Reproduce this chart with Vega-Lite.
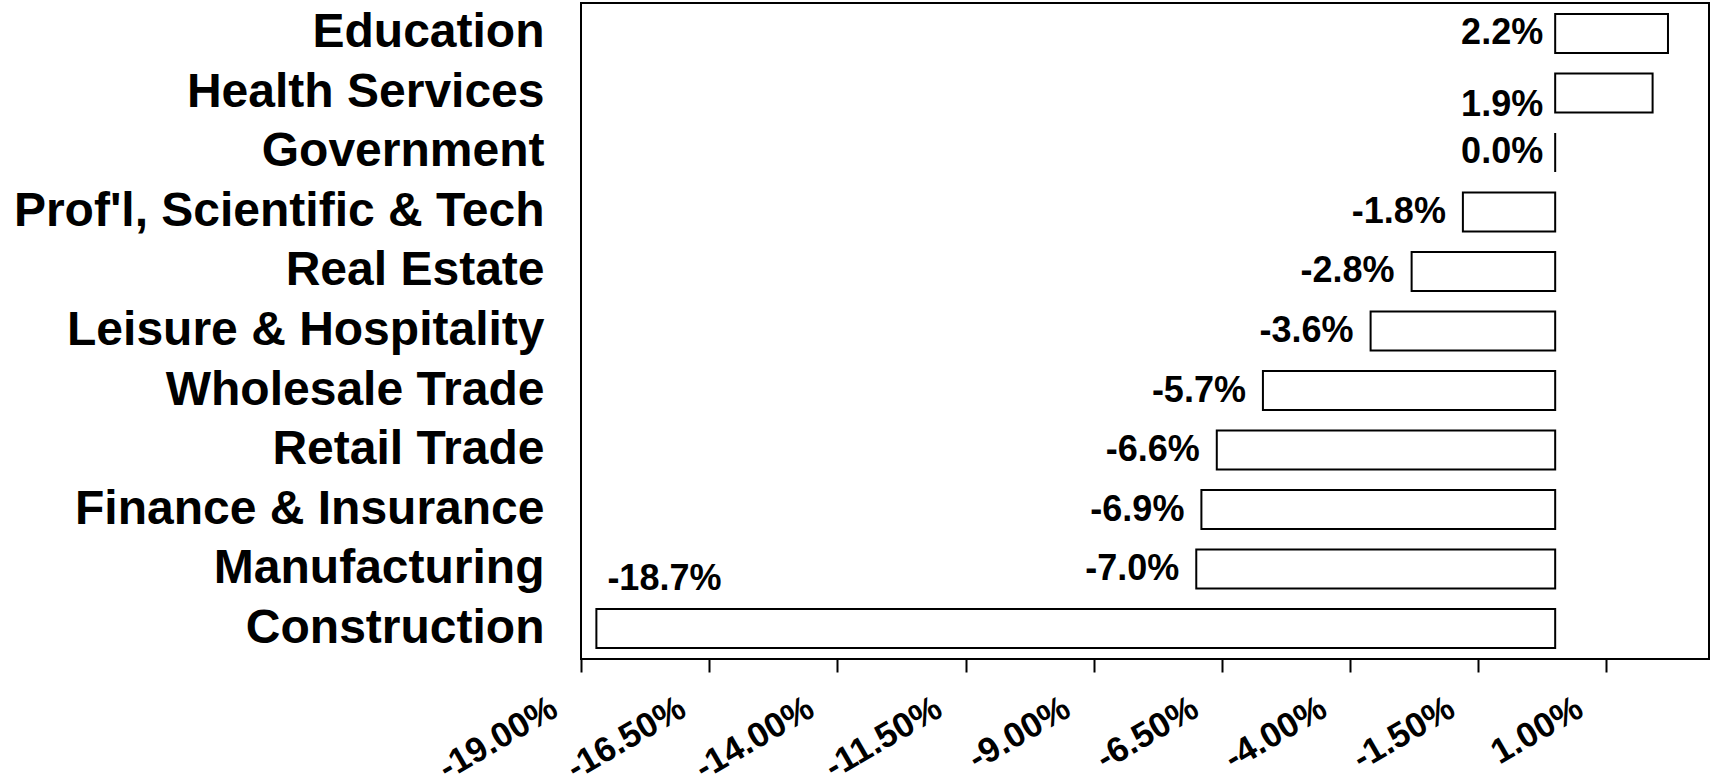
{
  "$schema": "https://vega.github.io/schema/vega-lite/v6.json",
  "autosize": {"type": "none"},
  "padding": {"left": 581, "top": 3, "right": 2, "bottom": 122},
  "width": 1128,
  "height": 656,
  "background": "white",
  "config": {
    "view": {"stroke": "black", "strokeWidth": 2},
    "font": "Liberation Sans",
    "locale": {"number": {"decimal": ".", "thousands": ",", "grouping": [3], "currency": ["$", ""], "minus": "-"}}
  },
  "data": {
    "values": [
      {"sector": "Education", "value": 0.022},
      {"sector": "Health Services", "value": 0.019},
      {"sector": "Government", "value": 0.0},
      {"sector": "Prof'l, Scientific & Tech", "value": -0.018},
      {"sector": "Real Estate", "value": -0.028},
      {"sector": "Leisure & Hospitality", "value": -0.036},
      {"sector": "Wholesale Trade", "value": -0.057},
      {"sector": "Retail Trade", "value": -0.066},
      {"sector": "Finance & Insurance", "value": -0.069},
      {"sector": "Manufacturing", "value": -0.070},
      {"sector": "Construction", "value": -0.187}
    ]
  },
  "encoding": {
    "y": {
      "field": "sector",
      "type": "nominal",
      "sort": null,
      "scale": {"paddingInner": 0.345, "paddingOuter": 0.185},
      "axis": {
        "title": null,
        "domain": false,
        "ticks": false,
        "labelFont": "Liberation Sans",
        "labelFontWeight": "bold",
        "labelFontSize": 48,
        "labelColor": "black",
        "labelPadding": 37,
        "labelLimit": 700
      }
    }
  },
  "layer": [
    {
      "mark": {"type": "bar", "fill": "white", "stroke": "black", "strokeWidth": 2},
      "encoding": {
        "x": {
          "field": "value",
          "type": "quantitative",
          "scale": {"domain": [-0.19, 0.03], "nice": false, "zero": false},
          "axis": {
            "title": null,
            "grid": false,
            "domain": false,
            "values": [-0.19, -0.165, -0.14, -0.115, -0.09, -0.065, -0.04, -0.015, 0.01],
            "format": ".2%",
            "labelAngle": -30,
            "labelAlign": "right",
            "labelBaseline": "middle",
            "labelFont": "Liberation Sans",
            "labelFontWeight": "bold",
            "labelFontSize": 35,
            "labelColor": "black",
            "labelPadding": 33,
            "labelOffset": -27,
            "labelOverlap": false,
            "tickColor": "black",
            "tickSize": 13,
            "tickWidth": 2
          }
        },
        "x2": {"datum": 0}
      }
    },
    {
      "mark": {"type": "rule", "color": "black", "strokeWidth": 2},
      "encoding": {"x": {"datum": 0}}
    },
    {
      "transform": [{"filter": "datum.value >= 0 && datum.sector != 'Health Services'"}],
      "mark": {"type": "text", "align": "right", "baseline": "middle", "dx": -12, "fontSize": 36, "fontWeight": "bold", "font": "Liberation Sans", "color": "black"},
      "encoding": {
        "x": {"datum": 0},
        "text": {"field": "value", "type": "quantitative", "format": ".1%"}
      }
    },
    {
      "transform": [{"filter": "datum.sector == 'Health Services'"}],
      "mark": {"type": "text", "align": "right", "baseline": "middle", "dx": -12, "dy": 12, "fontSize": 36, "fontWeight": "bold", "font": "Liberation Sans", "color": "black"},
      "encoding": {
        "x": {"datum": 0},
        "text": {"field": "value", "type": "quantitative", "format": ".1%"}
      }
    },
    {
      "transform": [{"filter": "datum.value < 0 && datum.sector != 'Construction'"}],
      "mark": {"type": "text", "align": "right", "baseline": "middle", "dx": -17, "fontSize": 36, "fontWeight": "bold", "font": "Liberation Sans", "color": "black"},
      "encoding": {
        "x": {"field": "value", "type": "quantitative"},
        "text": {"field": "value", "type": "quantitative", "format": ".1%"}
      }
    },
    {
      "transform": [{"filter": "datum.sector == 'Construction'"}],
      "mark": {"type": "text", "align": "left", "baseline": "middle", "dx": 11, "dy": -50, "fontSize": 36, "fontWeight": "bold", "font": "Liberation Sans", "color": "black"},
      "encoding": {
        "x": {"field": "value", "type": "quantitative"},
        "text": {"field": "value", "type": "quantitative", "format": ".1%"}
      }
    }
  ]
}
